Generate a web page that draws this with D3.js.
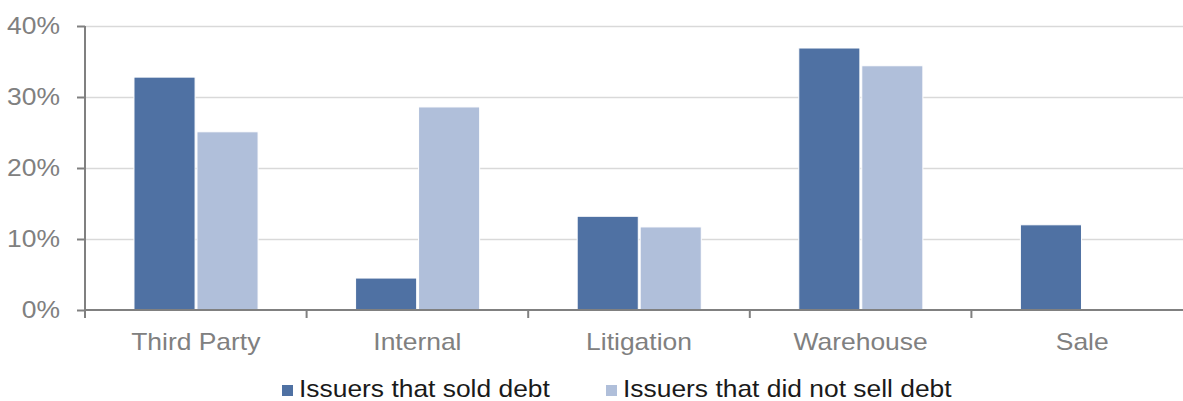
<!DOCTYPE html>
<html>
<head>
<meta charset="utf-8">
<script src="https://cdn.jsdelivr.net/npm/d3@7"></script>
<style>
  body { margin: 0; background: #fff; }
  svg { display: block; font-family: "Liberation Sans", Arial, sans-serif; }
</style>
</head>
<body>
<div id="chart"></div>
<script>
var categories = ["Third Party", "Internal", "Litigation", "Warehouse", "Sale"];
var seriesNames = ["Issuers that sold debt", "Issuers that did not sell debt"];
var soldDebt = [32.8, 4.5, 13.2, 36.9, 12.0];
var notSoldDebt = [25.1, 28.6, 11.7, 34.4, 0];
var yTicks = [0, 10, 20, 30, 40];

var colors = ["#4f71a3", "#b0bfda"];
var textGrey = "#808080";

var width = 1183, height = 401;
var plotLeft = 85, plotRight = 1193, plotTop = 26, plotBottom = 310;
var stretch = 1.15; // glyphs in the source are a bit wide

var svg = d3.select("#chart").append("svg")
  .attr("width", width)
  .attr("height", height);

var x = d3.scaleBand().domain(categories).range([plotLeft, plotRight]).padding(0);
var bw = x.bandwidth();
var x1 = d3.scaleBand().domain(seriesNames)
  .range([bw * 0.221, bw * 0.781])
  .paddingInner(0.03);
var y = d3.scaleLinear().domain([0, 40]).range([plotBottom, plotTop]);

// gridlines
svg.append("g").selectAll("line")
  .data(yTicks.filter(function(d) { return d > 0; }))
  .join("line")
  .attr("x1", plotLeft).attr("x2", width)
  .attr("y1", function(d) { return y(d) + 0.5; })
  .attr("y2", function(d) { return y(d) + 0.5; })
  .attr("stroke", "#d9d9d9")
  .attr("stroke-width", 1.5);

// bars
var rows = categories.map(function(c, i) {
  return [
    { cat: c, s: seriesNames[0], v: soldDebt[i] },
    { cat: c, s: seriesNames[1], v: notSoldDebt[i] }
  ];
});

svg.append("g").selectAll("g")
  .data(rows)
  .join("g")
  .attr("transform", function(d) { return "translate(" + x(d[0].cat) + ",0)"; })
  .selectAll("rect")
  .data(function(d) { return d.filter(function(e) { return e.v > 0; }); })
  .join("rect")
  .attr("x", function(d) { return x1(d.s); })
  .attr("y", function(d) { return y(d.v); })
  .attr("width", x1.bandwidth())
  .attr("height", function(d) { return y(0) - y(d.v); })
  .attr("fill", function(d) { return d.s === seriesNames[0] ? colors[0] : colors[1]; })
  .attr("stroke", "#fff")
  .attr("stroke-width", 1);

// y axis
var yAxis = svg.append("g")
  .attr("transform", "translate(" + plotLeft + ",0)")
  .call(d3.axisLeft(y).tickValues(yTicks).tickSize(8).tickPadding(10)
    .tickFormat(function(d) { return d + "%"; }));
yAxis.select(".domain").attr("stroke", "#808080").attr("stroke-width", 2)
  .attr("d", "M0," + plotTop + "V" + plotBottom);
yAxis.selectAll(".tick line").attr("stroke", "#808080").attr("stroke-width", 2);
yAxis.selectAll(".tick text")
  .attr("fill", textGrey)
  .attr("font-size", 23)
  .attr("font-family", "Liberation Sans, Arial, sans-serif")
  .attr("x", -25 / stretch)
  .attr("transform", "scale(" + stretch + ",1)");

// x axis
var xAxis = svg.append("g")
  .attr("transform", "translate(0," + plotBottom + ")")
  .call(d3.axisBottom(x).tickSize(0).tickPadding(24));
xAxis.select(".domain").attr("stroke", "#808080").attr("stroke-width", 2)
  .attr("d", "M" + plotLeft + ",0H" + width);
xAxis.selectAll(".tick text")
  .attr("fill", textGrey)
  .attr("font-size", 23)
  .attr("font-family", "Liberation Sans, Arial, sans-serif")
  .attr("transform", "scale(" + stretch + ",1)");
// category separator ticks
xAxis.append("g").selectAll("line")
  .data(categories.slice(1))
  .join("line")
  .attr("x1", function(d) { return x(d); })
  .attr("x2", function(d) { return x(d); })
  .attr("y1", 0).attr("y2", 8)
  .attr("stroke", "#808080").attr("stroke-width", 2);
xAxis.append("line")
  .attr("x1", plotLeft).attr("x2", plotLeft).attr("y1", 0).attr("y2", 8)
  .attr("stroke", "#808080").attr("stroke-width", 2);

// legend
var legendX = [282, 606];
var legend = svg.append("g").selectAll("g")
  .data(seriesNames)
  .join("g")
  .attr("transform", function(d, i) { return "translate(" + legendX[i] + ",385)"; });
legend.append("rect")
  .attr("width", 11).attr("height", 11)
  .attr("fill", function(d, i) { return colors[i]; });
legend.append("text")
  .attr("transform", "translate(17,12) scale(1.1,1)")
  .attr("font-size", 24)
  .attr("fill", "#1a1a1a")
  .text(function(d) { return d; });
</script>
</body>
</html>
